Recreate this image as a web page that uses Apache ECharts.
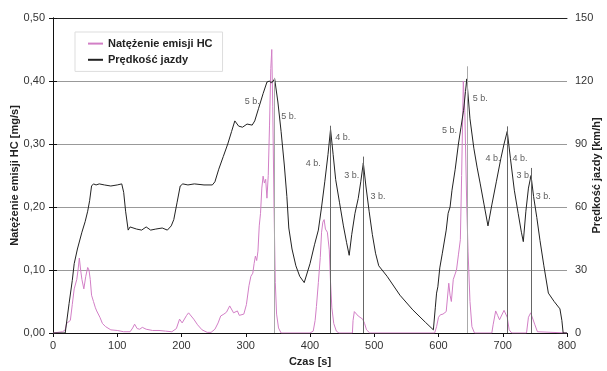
<!DOCTYPE html>
<html><head><meta charset="utf-8">
<script src="https://cdn.jsdelivr.net/npm/echarts@6/dist/echarts.min.js"></script>
<style>html,body{margin:0;padding:0;background:#fff}#c{width:607px;height:371px}</style>
</head><body><div id="c"></div>
<script>
// ---- data ----
const speedT = [0,19,25,30,33,38,45,50,54,57,60,63,67,72,80,90,100,107,110,113,117,120,130,138,145,152,160,170,178,184,188,193,198,202,210,220,235,248,252,258,265,272,278,283,289,295,302,310,314,320,327,333,337,340,345,350,355,360,364,367,372,378,384,391,400,407,413,418,423,428,432,436,440,446,452,457,461,465,470,475,479,483,487,492,497,502,507,520,540,560,580,592,595,597,599,602,606,612,615,618,621,626,631,635,639,642,644,649,655,660,665,671,677,683,690,697,702,707,712,718,724,729,732,736,740,744,748,753,758,764,771,780,789,792,794,800];
const speedV = [0,0,14,25,33,40,48,53,58,63,70,71,70.5,71,70.5,70,70.5,71,67,58,49,50.5,49.5,49,50.5,49,49.5,50,49,51,54,62,70,71,70.5,71,70.5,70.5,72,78,84,90,96,101,98.5,98,99.5,99,101,107,114,119.5,120,119,121,110,96,80,65,50,40,32,27,24,33,42,49,60,72,85,97,85,73,62,51,43,37,47,57,64,72,81,70,58,47,38,32,27,18,11,5,1.5,12,19,22,31,38,49,57,60,68,78,90,98,106,115,121,102,88,79,71,61,51,61,72,83,90,96,83,68,57,48,43.5,58,69,75,65,55,44,32,19,15,11.5,6,0,0];
const hcT = [0,15,19,21,24,27,30,33,37,39,41,43,45,48,51,54,56,58,60,63,66,68,70,73,77,82,90,100,110,120,124,127,131,135,139,145,155,165,175,185,192,197,201,204,208,211,214,219,225,232,240,246,252,257,261,266,270,275,278,281,284,287,290,293,297,301,305,308,311,313,315,317,319,321,323,325,327,329,331,333,335,337,339,340.5,342,344,346,348,351,355,400,405,408,410,413,416,418,420,422,424,427,429,430,432,434,437,441,445,466,467,469,472,475,478,482,485,488,493,594,597,600,603,607,612,616,618,620,623,626,628,631,634,636,638.6,641,644,646,649,652,656,683,685,689,692,695,698,702,705,707,710,714,737,740,743.5,746,750,754,757,800];
const hcV = [0,0.002,0.005,0.015,0.014,0.02,0.045,0.07,0.085,0.1,0.119,0.1,0.085,0.07,0.09,0.104,0.1,0.085,0.06,0.05,0.04,0.035,0.037,0.025,0.015,0.01,0.005,0.004,0.002,0.002,0.008,0.014,0.007,0.006,0.009,0.006,0.004,0.004,0.003,0.002,0.007,0.022,0.016,0.016,0.028,0.032,0.03,0.022,0.013,0.005,0.001,0.001,0.006,0.016,0.027,0.03,0.033,0.043,0.04,0.032,0.03,0.035,0.028,0.025,0.03,0.045,0.075,0.09,0.095,0.11,0.122,0.115,0.13,0.17,0.19,0.23,0.249,0.238,0.244,0.214,0.25,0.33,0.42,0.45,0.36,0.2,0.08,0.03,0.008,0,0,0.003,0.02,0.042,0.08,0.12,0.16,0.176,0.18,0.165,0.16,0.158,0.132,0.08,0.04,0.015,0.003,0,0,0.02,0.034,0.031,0.027,0.026,0.022,0.015,0.005,0,0,0.01,0.025,0.029,0.03,0.034,0.079,0.06,0.05,0.085,0.082,0.1,0.124,0.148,0.25,0.40,0.35,0.2,0.13,0.05,0.01,0,0,0.013,0.035,0.028,0.021,0.024,0.036,0.037,0.025,0.005,0,0,0.025,0.032,0.033,0.013,0.002,0,0];
// gear-shift drop lines (time, top speed)
const shiftT = [345,432,483,644,707,744];
const shiftTop = [121.5,98.7,84,127,98.4,78.6];
// gear annotations (time, speed, text)
const annoT = [310,367,405,451,465,506,617,665,685,727,733,763];
const annoV = [110,103,80.6,93,75,65,96.3,111.5,83,83,75,65];
const annoText = ['5 b.','5 b.','4 b.','4 b.','3 b.','3 b.','5 b.','5 b.','4 b.','4 b.','3 b.','3 b.'];
const xTicks = {min:0,max:800,interval:100};
const hcTicks = {min:0,max:0.5,interval:0.1};
const vTicks = {min:0,max:150,interval:30};

// styles
const FONT = '"Liberation Sans", Arial, sans-serif';
const PINK = '#d27fc6';
const shiftColors = ['#aaa','#666','#666','#aaa','#666','#666'];

const speedData = speedT.map((t,i)=>[t,speedV[i]]);
const hcData = hcT.map((t,i)=>[t,hcV[i]]);
const shiftLines = shiftT.map((t,i)=>[{coord:[t,0],lineStyle:{color:shiftColors[i]}},{coord:[t,shiftTop[i]]}]);
const annoData = annoT.map((t,i)=>({value:[t,annoV[i]],name:annoText[i]}));

const chart = echarts.init(document.getElementById('c'));
chart.setOption({
  animation:false,
  textStyle:{fontFamily:FONT},
  grid:{left:53,right:40,top:18,bottom:38,containLabel:false,outerBoundsMode:'none'},
  legend:{
    left:75, top:32, orient:'vertical',
    backgroundColor:'#fff', borderColor:'#ddd', borderWidth:1,
    padding:[6,10,6,12], itemGap:5, itemWidth:15, itemHeight:14,
    itemStyle:{opacity:0},
    textStyle:{fontFamily:FONT,fontSize:11,fontWeight:'bold',color:'#222'},
    data:['Natężenie emisji HC','Prędkość jazdy']
  },
  xAxis:[{
    type:'value', ...xTicks, position:'bottom',
    name:'Czas [s]', nameLocation:'middle', nameGap:23, nameMoveOverlap:false,
    nameTextStyle:{fontFamily:FONT,fontSize:11,fontWeight:'bold',color:'#222'},
    axisLine:{lineStyle:{color:'#111',width:1}},
    axisTick:{show:true,length:4,lineStyle:{color:'#111'}},
    axisLabel:{fontFamily:FONT,fontSize:11,color:'#333',margin:7},
    splitLine:{show:false}
  },{
    type:'value', ...xTicks, position:'top',
    axisLine:{show:true,onZero:false,lineStyle:{color:'#222',width:1}},
    axisTick:{show:false}, axisLabel:{show:false}, splitLine:{show:false}
  }],
  yAxis:[{
    type:'value', ...hcTicks, position:'left',
    name:'Natężenie emisji HC [mg/s]', nameLocation:'middle', nameGap:33, nameRotate:90, nameMoveOverlap:false,
    nameTextStyle:{fontFamily:FONT,fontSize:11,fontWeight:'bold',color:'#222'},
    axisLine:{show:true,lineStyle:{color:'#111',width:1}},
    axisTick:{show:true,length:4,lineStyle:{color:'#111'}},
    axisLabel:{fontFamily:FONT,fontSize:11,color:'#333',margin:8,
      formatter:v=>v.toFixed(2).replace('.',',')},
    splitLine:{show:true,lineStyle:{color:'#999',width:1}}
  },{
    type:'value', ...vTicks, position:'right',
    name:'Prędkość jazdy [km/h]', nameLocation:'middle', nameGap:24, nameRotate:90, nameMoveOverlap:false,
    nameTextStyle:{fontFamily:FONT,fontSize:11,fontWeight:'bold',color:'#222'},
    axisLine:{show:true,lineStyle:{color:'#111',width:1}},
    axisTick:{show:true,length:4,lineStyle:{color:'#111'}},
    axisLabel:{fontFamily:FONT,fontSize:11,color:'#333',margin:8},
    splitLine:{show:false}
  }],
  series:[{
    name:'Natężenie emisji HC', type:'line', yAxisIndex:0, data:hcData,
    symbol:'none', lineStyle:{color:PINK,width:1}, itemStyle:{color:PINK}, z:3
  },{
    name:'Prędkość jazdy', type:'line', yAxisIndex:1, data:speedData,
    symbol:'none', lineStyle:{color:'#222',width:1}, itemStyle:{color:'#222'}, z:4,
    markLine:{silent:true, symbol:'none', label:{show:false},
      lineStyle:{color:'#777',width:1,type:'solid'}, data:shiftLines}
  },{
    name:'anno', type:'scatter', yAxisIndex:1, data:annoData, symbolSize:0, silent:true,
    label:{show:true, position:'inside', formatter:p=>p.name,
      fontFamily:FONT, fontSize:9, color:'#333'}, z:5
  }]
});
</script></body></html>
